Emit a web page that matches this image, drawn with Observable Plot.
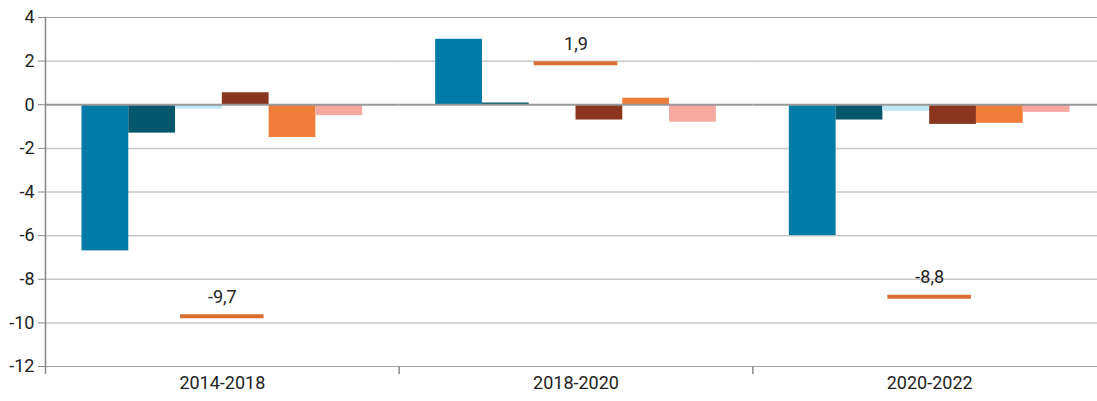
<!DOCTYPE html>
<html>
<head>
<meta charset="utf-8">
<script src="https://cdn.jsdelivr.net/npm/d3@7"></script>
<script src="https://cdn.jsdelivr.net/npm/@observablehq/plot@0.6"></script>
<style>
  html, body { margin: 0; padding: 0; background: #fff; overflow: hidden; }
  #chart svg { display: block; }
</style>
</head>
<body>
<div id="chart"></div>
<script>
// ---- data ----
const groups = ["2014-2018", "2018-2020", "2020-2022"];
const series = ["S1", "S2", "S3", "S4", "S5", "S6"];
const colors = ["#007ba7", "#04566a", "#bee6f5", "#8a361e", "#f07e3a", "#f7a8a0"];
const values2014 = [-6.7, -1.3, -0.2, 0.55, -1.5, -0.5];
const values2018 = [3.0, 0.08, -0.05, -0.7, 0.3, -0.8];
const values2020 = [-6.0, -0.7, -0.3, -0.9, -0.85, -0.35];
const totals = [-9.7, 1.9, -8.8];
const totalLabels = ["-9,7", "1,9", "-8,8"];
const yTicks = [4, 2, 0, -2, -4, -6, -8, -10, -12];

// ---- tables built from the arrays ----
const valuesByGroup = [values2014, values2018, values2020];
const bars = groups.flatMap((g, i) => series.map((s, j) => ({group: g, series: s, value: valuesByGroup[i][j]})));
const totalRows = groups.map((g, i) => ({group: g, value: totals[i], label: totalLabels[i]}));

// ---- layout ----
const W = 1097, H = 401;
const ML = 45, MR = -9, MT = 17, MB = 35;
const facetW = (W - ML - MR) / groups.length;
const font = "Roboto, 'Noto Sans', sans-serif";

const chart = Plot.plot({
  width: W,
  height: H,
  marginLeft: ML,
  marginRight: MR,
  marginTop: MT,
  marginBottom: MB,
  style: {fontFamily: font, fontSize: "18px", color: "#222", background: "#fff", overflow: "visible"},
  fx: {domain: groups, padding: 0, round: false},
  x: {domain: series, paddingInner: 0, paddingOuter: 0.78, round: false, axis: null},
  y: {domain: [-12, 4]},
  color: {domain: series, range: colors},
  marks: [
    Plot.ruleY(yTicks.filter(t => t !== 0 && t !== 4 && t !== -12), {stroke: "#c8c8c8", strokeWidth: 1.5}),
    Plot.ruleY([4, -12], {stroke: "#a0a0a0", strokeWidth: 1.2}),
    Plot.barY(bars, {fx: "group", x: "series", y: "value", fill: "series"}),
    Plot.ruleY([0], {stroke: "#999", strokeWidth: 2}),
    Plot.ruleY(totalRows, {
      fx: "group", y: "value",
      x1: () => series[2], x2: () => series[3],
      insetLeft: 5, insetRight: 5,
      stroke: "#da6d32", strokeWidth: 4
    }),
    Plot.text(totalRows, {
      fx: "group", y: "value", text: "label",
      frameAnchor: "middle", dy: -19,
      fill: "#222", fontSize: 18, fontFamily: font
    }),
    Plot.frame({anchor: "left", facetAnchor: "left", stroke: "#888", strokeWidth: 1.5}),
    Plot.axisY({
      ticks: yTicks, tickSize: 7, tickPadding: 4, label: null,
      stroke: "#888", fill: "#222", fontSize: 18, fontFamily: font,
      tickFormat: d => String(d)
    }),
    Plot.axisFx({
      anchor: "bottom", tickSize: 0, tickPadding: 10, label: null,
      fill: "#222", fontSize: 18, fontFamily: font
    }),
    Plot.axisFx({
      anchor: "bottom", tickSize: 8, label: null,
      tickFormat: () => "", stroke: "#888", strokeWidth: 1.5, dx: -facetW / 2
    })
  ]
});

document.getElementById("chart").appendChild(chart);
</script>
</body>
</html>
